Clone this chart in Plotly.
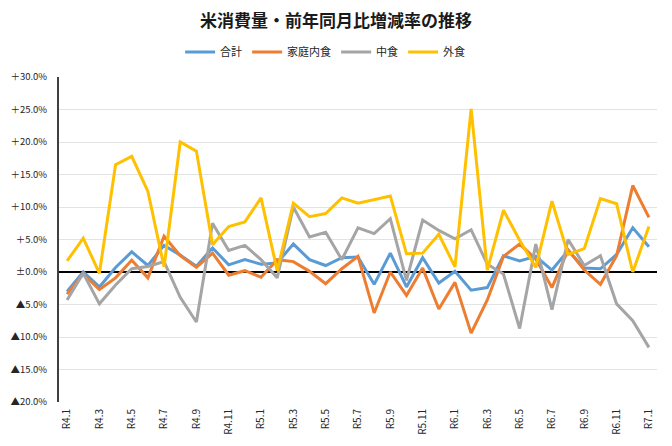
import plotly.graph_objects as go

months = ["R4.1", "R4.2", "R4.3", "R4.4", "R4.5", "R4.6", "R4.7", "R4.8", "R4.9", "R4.10",
          "R4.11", "R4.12", "R5.1", "R5.2", "R5.3", "R5.4", "R5.5", "R5.6", "R5.7", "R5.8",
          "R5.9", "R5.10", "R5.11", "R5.12", "R6.1", "R6.2", "R6.3", "R6.4", "R6.5", "R6.6",
          "R6.7", "R6.8", "R6.9", "R6.10", "R6.11", "R6.12", "R7.1"]

total = [-3.0, 0.0, -2.3, 0.7, 3.1, 1.0, 4.1, 2.6, 0.9, 3.7, 1.1, 1.9, 1.2, 1.4, 4.3, 1.9,
         1.0, 2.2, 2.3, -1.9, 2.9, -2.3, 2.2, -1.7, 0.1, -2.8, -2.4, 2.5, 1.7, 2.4, 0.3, 3.3,
         0.6, 0.5, 2.7, 6.8, 3.9]
home = [-3.4, -0.3, -2.7, -0.9, 1.8, -0.9, 5.5, 2.5, 0.7, 2.9, -0.5, 0.2, -0.8, 1.9, 1.6, 0.1,
        -1.8, 0.5, 2.4, -6.3, 0.0, -3.6, 0.6, -5.7, -1.6, -9.4, -4.3, 2.4, 4.3, 2.0, -2.4, 3.4,
        0.3, -1.9, 2.5, 13.3, 8.4]
nakashoku = [-4.3, -0.2, -4.9, -2.0, 0.5, 0.85, 1.6, -3.9, -7.7, 7.5, 3.3, 4.1, 1.9, -0.9, 10.0,
             5.4, 6.1, 1.9, 6.8, 5.9, 8.2, -1.3, 8.0, 6.4, 5.1, 6.5, 1.2, -0.3, -8.7, 4.3, -5.8,
             5.0, 1.0, 2.5, -4.9, -7.5, -11.6]
gaishoku = [1.7, 5.2, -0.2, 16.5, 17.8, 12.4, 0.8, 20.0, 18.6, 4.2, 7.0, 7.7, 11.4, 0.2, 10.6,
            8.5, 9.0, 11.4, 10.6, 11.2, 11.7, 2.8, 2.9, 5.8, 0.8, 25.1, 0.3, 9.5, 4.9, 0.7, 10.9,
            2.7, 3.6, 11.3, 10.5, 0.0, 7.0]

series_names = ["合計", "家庭内食", "中食", "外食"]
series_colors = ["#5B9BD5", "#ED7D31", "#A5A5A5", "#FFC000"]

y_tickvals = [-20, -15, -10, -5, 0, 5, 10, 15, 20, 25, 30]
y_ticktext = ["▲20.0%", "▲15.0%", "▲10.0%", "▲5.0%", "±0.0%", "＋5.0%", "＋10.0%",
              "＋15.0%", "＋20.0%", "＋25.0%", "＋30.0%"]

FONT = "Noto Sans CJK JP"

fig = go.Figure()
for name, vals, col in zip(series_names, [total, home, nakashoku, gaishoku], series_colors):
    fig.add_trace(go.Scatter(x=months, y=vals, name=name, mode="lines",
                             line=dict(color=col, width=3)))

n = len(months)
# the page body has an 8px margin, so the figure is laid out relative to (8, 8)
fig.update_layout(
    width=672, height=446,
    margin=dict(l=51, r=23, t=69, b=52),
    paper_bgcolor="white", plot_bgcolor="white",
    font=dict(family=FONT, color="#000000"),
    title=dict(text="<b>米消費量・前年同月比増減率の推移</b>", x=(336 - 8) / 672, xanchor="center",
               y=1 - 13 / 446, yanchor="middle", font=dict(size=17, color="#1a1a1a")),
    legend=dict(orientation="h", x=0.445, xanchor="center", y=1.077, yanchor="middle",
                font=dict(size=11, color="#262626"), itemwidth=30, tracegroupgap=0),
    showlegend=True,
    xaxis=dict(type="category", categoryarray=months, tickmode="array",
               tickvals=months[::2], tickangle=-90, range=[-0.5, n - 0.5],
               showgrid=False, showline=False, ticks="", zeroline=False, automargin=False,
               tickfont=dict(size=10, color="#262626"), ticklabelstandoff=4),
    xaxis2=dict(overlaying="x", anchor="free", position=0.4, range=[-0.5, n - 0.5],
                showline=True, linecolor="#000000", linewidth=2, ticks="outside",
                tickmode="array", tickvals=[i + 1.5 for i in range(0, n - 1, 2)],
                ticklen=3, tickwidth=2, tickcolor="#000000", showticklabels=False,
                showgrid=False, zeroline=False),
    yaxis=dict(range=[-20, 30], tickmode="array", tickvals=y_tickvals, ticktext=y_ticktext,
               showgrid=True, gridcolor="#e3e3e3", gridwidth=1, automargin=False,
               showline=True, linecolor="#404040", linewidth=2,
               zeroline=True, zerolinecolor="#000000", zerolinewidth=2,
               ticks="", tickfont=dict(size=9.5, color="#262626"), ticklabelstandoff=8),
)

fig.write_html("out.html")
